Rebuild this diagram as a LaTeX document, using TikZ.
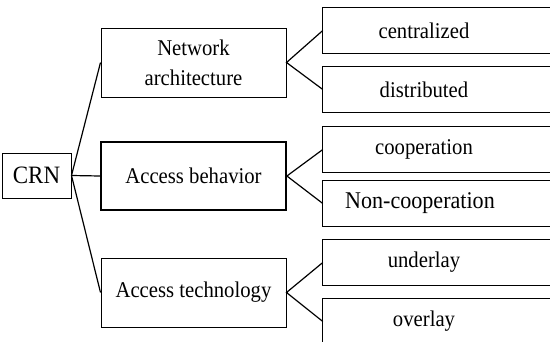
\documentclass[tikz,border=0pt]{standalone}
\usepackage{fontspec}
\setmainfont[FakeStretch=0.92]{Liberation Serif}
\begin{document}
\begin{tikzpicture}[x=1pt, y=-1pt,
  box/.style={draw, line width=1pt, minimum width=185pt, minimum height=69pt, inner sep=0pt, align=center},
  leaf/.style={minimum width=202pt, minimum height=45pt, inner sep=0pt},
  link/.style={line width=1.2pt}]
\useasboundingbox (0,0) rectangle (550,341);
\clip (0,0) rectangle (550,341);
\fontsize{22.5}{30}\selectfont
\node[draw, line width=1pt, minimum width=69pt, minimum height=45pt, inner sep=0pt, font=\fontsize{25}{30}\selectfont] (crn) at (36.5,175.5) {CRN};
\node[box] (net) at (193.5,62.5) {Network\\architecture};
\node[box, line width=1.8pt, minimum height=68pt] (beh) at (193.5,176) {Access behavior};
\node[box] (tec) at (193.5,292.5) {Access technology};
% leaves, cut off at the right edge
\node[leaf] (cen) at (424,30.5) {centralized};
\node[leaf] (dis) at (424,89.5) {distributed};
\node[leaf] (coo) at (424,149.5) {cooperation};
\node[leaf, font=\fontsize{24}{30}\selectfont] (non) at (424,203.5) {\hspace*{-8pt}Non-cooperation};
\node[leaf] (und) at (424,262.5) {underlay};
\node[leaf] (ove) at (424,321.5) {overlay};
\foreach \n in {cen,dis,coo,non,und,ove}
  \draw[line width=1pt] (\n.north west) rectangle ([xshift=40pt]\n.south east);
\draw[link] (crn.east) -- (net.west);
\draw[link] (crn.east) -- (beh.west);
\draw[link] (crn.east) -- (tec.west);
\draw[link] (cen.west) -- (net.east) -- (dis.west);
\draw[link] (coo.west) -- (beh.east) -- (non.west);
\draw[link] (und.west) -- (tec.east) -- (ove.west);
\end{tikzpicture}
\end{document}
